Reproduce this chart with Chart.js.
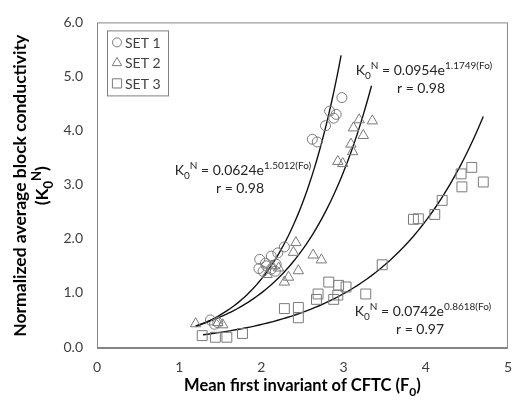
<!DOCTYPE html>
<html lang="en">
<head>
<meta charset="UTF-8">
<title>Block conductivity vs CFTC</title>
<script src="https://cdn.jsdelivr.net/npm/chart.js"></script>
<style>
    html, body { margin: 0; padding: 0; background: #fff; }
    #wrap { width: 524px; height: 408px; position: relative; }
</style>
</head>
<body>
<div id="wrap"><canvas id="chart"></canvas></div>
<script>
// measured points (F0, K0N)
const set1X = [1.38, 1.43, 1.47, 1.98, 2.05, 2.12, 2.20, 2.28, 1.97, 2.06, 2.12, 2.18, 2.02, 2.17, 2.62, 2.68, 2.78, 2.83, 2.88, 2.91, 2.98];
const set1Y = [0.50, 0.42, 0.45, 1.62, 1.55, 1.68, 1.74, 1.85, 1.45, 1.50, 1.44, 1.53, 1.40, 1.40, 3.84, 3.79, 4.09, 4.36, 4.23, 4.30, 4.61];
const set2X = [1.20, 1.47, 1.53, 2.42, 2.39, 2.63, 2.73, 2.45, 2.33, 2.28, 2.21, 2.07, 2.13, 3.19, 3.35, 3.12, 3.24, 3.09, 3.11, 2.93, 2.99];
const set2Y = [0.43, 0.45, 0.41, 1.93, 1.75, 1.70, 1.61, 1.41, 1.29, 1.20, 1.46, 1.34, 1.50, 4.20, 4.18, 4.05, 3.91, 3.75, 3.61, 3.43, 3.39];
const set3X = [1.28, 1.44, 1.58, 1.77, 2.28, 2.45, 2.45, 2.69, 2.67, 2.82, 2.94, 3.03, 2.93, 2.88, 3.27, 3.47, 3.85, 3.91, 4.11, 4.20, 4.43, 4.56, 4.44, 4.70];
const set3Y = [0.21, 0.18, 0.18, 0.25, 0.71, 0.73, 0.54, 0.98, 0.88, 1.20, 1.14, 1.11, 0.96, 0.88, 0.98, 1.52, 2.36, 2.37, 2.45, 2.71, 3.20, 3.32, 2.96, 3.05];

// exponential fits K = a * e^(b * F0), drawn over [from, to]
const fitA = [0.0624, 0.0954, 0.0742];
const fitB = [1.5012, 1.1749, 0.8618];
const fitFrom = [1.2, 1.2, 1.29];
const fitTo = [2.97, 3.34, 4.70];
const fitR = ['0.98', '0.98', '0.97'];

const setNames = ['SET 1', 'SET 2', 'SET 3'];
const xTicks = [0, 1, 2, 3, 4, 5];
const yTicks = [0, 1, 2, 3, 4, 5, 6];

const FONT = 'Lato, "Liberation Sans", sans-serif';
const MARK = '#7a7a7a';

function pts(xs, ys) {
    return xs.map((x, i) => ({ x: x, y: ys[i] }));
}

function curve(k) {
    const out = [];
    const n = 60;
    for (let i = 0; i <= n; i++) {
        const x = fitFrom[k] + (fitTo[k] - fitFrom[k]) * i / n;
        out.push({ x: x, y: fitA[k] * Math.exp(fitB[k] * x) });
    }
    return out;
}

const styles = ['circle', 'triangle', 'rect'];
const radii = [5, 6, 7];

const datasets = [];
[[set1X, set1Y], [set2X, set2Y], [set3X, set3Y]].forEach((s, k) => {
    datasets.push({
        type: 'scatter',
        label: setNames[k],
        data: pts(s[0], s[1]),
        pointStyle: styles[k],
        pointRadius: radii[k],
        pointHoverRadius: radii[k],
        borderColor: MARK,
        backgroundColor: 'rgba(0,0,0,0)',
        pointBorderWidth: 1
    });
});
for (let k = 0; k < 3; k++) {
    datasets.push({
        type: 'line',
        label: 'fit ' + (k + 1),
        data: curve(k),
        borderColor: '#111',
        borderWidth: 1.4,
        pointRadius: 0,
        tension: 0,
        fill: false
    });
}

// text with sub/superscripts: parts = [[text, 'n'|'sub'|'sup'], ...]
function drawRich(ctx, parts, cx, y, size, bold) {
    const b = bold ? 'bold ' : '';
    let w = 0;
    parts.forEach(p => {
        ctx.font = b + (p[1] === 'n' ? size : Math.round(size * 0.72)) + 'px ' + FONT;
        w += ctx.measureText(p[0]).width;
    });
    let x = cx - w / 2;
    ctx.textAlign = 'left';
    ctx.textBaseline = 'alphabetic';
    parts.forEach(p => {
        const small = p[1] !== 'n';
        ctx.font = b + (small ? Math.round(size * 0.72) : size) + 'px ' + FONT;
        let dy = 0;
        if (p[1] === 'sub') dy = size * 0.3;
        if (p[1] === 'sup') dy = -size * 0.4;
        ctx.fillText(p[0], x, y + dy);
        x += ctx.measureText(p[0]).width;
    });
}

const decor = {
    id: 'decor',
    afterDraw(chart) {
        const ctx = chart.ctx;
        const a = chart.chartArea;
        ctx.save();

        // frame
        ctx.strokeStyle = '#858585';
        ctx.lineWidth = 1;
        ctx.strokeRect(a.left + 0.5, a.top + 0.5, a.right - a.left - 1, a.bottom - a.top);
        ctx.lineWidth = 2;
        ctx.beginPath();
        ctx.moveTo(a.left, a.bottom + 1);
        ctx.lineTo(a.right, a.bottom + 1);
        ctx.stroke();

        // legend
        const lx = a.left + 10, ly = a.top + 8;
        ctx.lineWidth = 1;
        ctx.strokeStyle = '#7f7f7f';
        ctx.strokeRect(lx + 0.5, ly + 0.5, 61, 65);
        for (let k = 0; k < 3; k++) {
            const yy = ly + 12 + k * 20.5;
            ctx.strokeStyle = MARK;
            ctx.fillStyle = 'rgba(0,0,0,0)';
            ctx.lineWidth = 1;
            Chart.helpers.drawPoint(ctx, { pointStyle: styles[k], radius: radii[k] - 0.5, borderWidth: 1 }, lx + 10, yy);
            ctx.fillStyle = '#404040';
            ctx.font = '14px ' + FONT;
            ctx.textAlign = 'left';
            ctx.textBaseline = 'middle';
            ctx.fillText(setNames[k], lx + 18, yy + 1);
        }

        // equations
        const eqPos = [[243, 175], [424, 75], [423, 316]];
        ctx.fillStyle = '#262626';
        for (let k = 0; k < 3; k++) {
            const parts = [['K', 'n'], ['0', 'sub'], ['N', 'sup'], [' = ' + fitA[k].toFixed(4) + 'e', 'n'], [fitB[k].toFixed(4) + '(Fo)', 'sup']];
            drawRich(ctx, parts, eqPos[k][0], eqPos[k][1], 14, false);
            ctx.font = '14px ' + FONT;
            ctx.textAlign = 'center';
            ctx.fillText('r = ' + fitR[k], eqPos[k][0] - 3, eqPos[k][1] + 18);
        }

        // axis titles
        ctx.fillStyle = '#000';
        drawRich(ctx, [['Mean first invariant of CFTC (F', 'n'], ['0', 'sub'], [')', 'n']], (a.left + a.right) / 2, 391, 16.5, true);
        ctx.translate(26, (a.top + a.bottom) / 2 + 1);
        ctx.rotate(-Math.PI / 2);
        drawRich(ctx, [['Normalized average block conductivity', 'n']], 0, 0, 17.5, true);
        drawRich(ctx, [['(K', 'n'], ['0', 'sub'], ['N', 'sup'], [')', 'n']], 0, 22, 17.5, true);
        ctx.restore();
    }
};

new Chart(document.getElementById('chart'), {
    type: 'scatter',
    data: { datasets: datasets },
    options: {
        responsive: true,
        maintainAspectRatio: false,
        animation: false,
        layout: { padding: { left: 0, right: 8, top: 10, bottom: 0 } },
        plugins: { legend: { display: false }, tooltip: { enabled: false } },
        scales: {
            x: {
                type: 'linear',
                min: 0, max: 5,
                afterFit: s => { s.height = 61; },
                afterBuildTicks: s => { s.ticks = xTicks.map(v => ({ value: v })); },
                grid: { display: false, drawTicks: false },
                border: { display: false },
                ticks: { color: '#404040', font: { family: FONT, size: 14 }, padding: 12 }
            },
            y: {
                type: 'linear',
                min: 0, max: 6,
                afterFit: s => { s.width = 97; },
                afterBuildTicks: s => { s.ticks = yTicks.map(v => ({ value: v })); },
                grid: { display: false, drawTicks: false },
                border: { display: false },
                ticks: { color: '#404040', font: { family: FONT, size: 14 }, padding: 14, callback: v => v.toFixed(1) }
            }
        }
    },
    plugins: [decor]
});
</script>
</body>
</html>
